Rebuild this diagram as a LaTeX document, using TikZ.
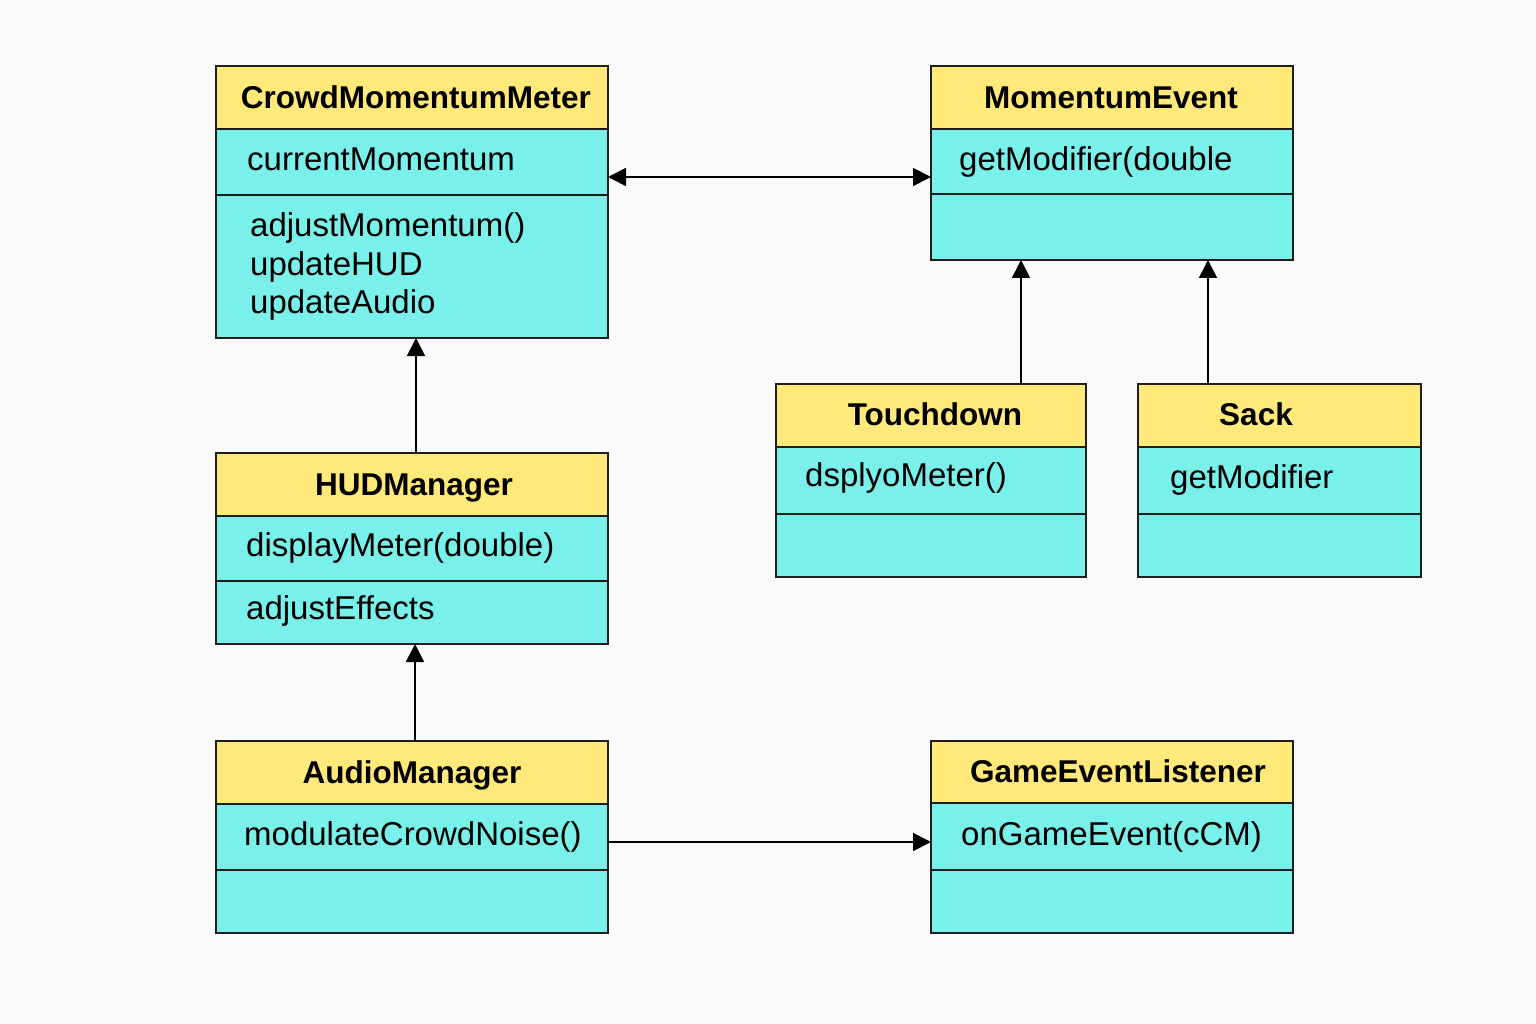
\documentclass[tikz,border=0pt]{standalone}
\usepackage{fontspec}
\setmainfont{Liberation Sans}
\usetikzlibrary{arrows.meta}
\definecolor{bgc}{HTML}{FAFAFA}
\definecolor{hdrc}{HTML}{FEE97A}
\definecolor{cmpc}{HTML}{7AF0EA}
\definecolor{linec}{HTML}{1E1E1E}
\tikzset{
  box/.style={draw=linec, line width=1.5pt, anchor=north west, inner sep=0pt, outer sep=0pt},
  hdr/.style={box, fill=hdrc},
  cmp/.style={box, fill=cmpc},
  htext/.style={font=\fontsize{31.5}{36}\selectfont\bfseries, anchor=mid, inner sep=0pt, yshift=-7pt},
  btext/.style={font=\fontsize{33}{38}\selectfont, anchor=mid west, inner sep=0pt, yshift=-7pt},
  conn/.style={draw=black, line width=1.7pt},
  tip/.style={-{Triangle[length=18pt,width=18pt]}},
  dtip/.style={{Triangle[length=18pt,width=18pt]}-{Triangle[length=18pt,width=18pt]}}
}
\begin{document}
\begin{tikzpicture}[x=1pt,y=-1pt]
\fill[bgc] (0,0) rectangle (1536,1024);
\useasboundingbox (0,0) rectangle (1536,1024);

% CrowdMomentumMeter
\node[hdr, minimum width=392pt, minimum height=63pt] (cmmH) at (216,66) {};
\node[cmp, minimum width=392pt, minimum height=66pt] (cmmA) at (216,129) {};
\node[cmp, minimum width=392pt, minimum height=143pt] (cmmM) at (216,195) {};
\node[htext] (cmmT) at (416,99) {CrowdMomentumMeter};
\node[btext] (cmmA1) at (247,161) {currentMomentum};
\node[btext] (cmmM1) at (250,227) {adjustMomentum()};
\node[btext] (cmmM2) at (250,266) {updateHUD};
\node[btext] (cmmM3) at (250,304) {updateAudio};

% MomentumEvent
\node[hdr, minimum width=362pt, minimum height=63pt] (meH) at (931,66) {};
\node[cmp, minimum width=362pt, minimum height=65pt] (meA) at (931,129) {};
\node[cmp, minimum width=362pt, minimum height=66pt] (meM) at (931,194) {};
\node[htext] (meT) at (1111,99) {MomentumEvent};
\node[btext] (meA1) at (959,161) {getModifier(double};

% Touchdown
\node[hdr, minimum width=310pt, minimum height=63pt] (tdH) at (776,384) {};
\node[cmp, minimum width=310pt, minimum height=67pt] (tdA) at (776,447) {};
\node[cmp, minimum width=310pt, minimum height=63pt] (tdM) at (776,514) {};
\node[htext] (tdT) at (935,416) {Touchdown};
\node[btext] (tdA1) at (805,477) {dsplyoMeter()};

% Sack
\node[hdr, minimum width=283pt, minimum height=63pt] (skH) at (1138,384) {};
\node[cmp, minimum width=283pt, minimum height=67pt] (skA) at (1138,447) {};
\node[cmp, minimum width=283pt, minimum height=63pt] (skM) at (1138,514) {};
\node[htext] (skT) at (1256,416) {Sack};
\node[btext] (skA1) at (1170,479) {getModifier};

% HUDManager
\node[hdr, minimum width=392pt, minimum height=63pt] (hudH) at (216,453) {};
\node[cmp, minimum width=392pt, minimum height=65pt] (hudA) at (216,516) {};
\node[cmp, minimum width=392pt, minimum height=63pt] (hudM) at (216,581) {};
\node[htext] (hudT) at (414,486) {HUDManager};
\node[btext] (hudA1) at (246,547) {displayMeter(double)};
\node[btext] (hudM1) at (246,610) {adjustEffects};

% AudioManager
\node[hdr, minimum width=392pt, minimum height=63pt] (amH) at (216,741) {};
\node[cmp, minimum width=392pt, minimum height=66pt] (amA) at (216,804) {};
\node[cmp, minimum width=392pt, minimum height=63pt] (amM) at (216,870) {};
\node[htext] (amT) at (412,774) {AudioManager};
\node[btext] (amA1) at (244,836) {modulateCrowdNoise()};

% GameEventListener
\node[hdr, minimum width=362pt, minimum height=62pt] (gelH) at (931,741) {};
\node[cmp, minimum width=362pt, minimum height=67pt] (gelA) at (931,803) {};
\node[cmp, minimum width=362pt, minimum height=63pt] (gelM) at (931,870) {};
\node[htext] (gelT) at (1118,773) {GameEventListener};
\node[btext] (gelA1) at (961,836) {onGameEvent(cCM)};

% connectors
\draw[conn, dtip] ([yshift=18pt]cmmA.south east) -- ([yshift=17pt]meA.south west);
\draw[conn, tip] ([xshift=90pt]tdH.north) -- ([xshift=90pt]tdH.north |- meM.south);
\draw[conn, tip] ([xshift=-71.5pt]skH.north) -- ([xshift=-71.5pt]skH.north |- meM.south);
\draw[conn, tip] ([xshift=4pt]hudH.north) -- ([xshift=4pt]hudH.north |- cmmM.south);
\draw[conn, tip] ([xshift=3pt]amH.north) -- ([xshift=3pt]amH.north |- hudM.south);
\draw[conn, tip] ([yshift=-5pt]amA.east) -- ([yshift=-5pt]amA.east -| gelA.west);
\end{tikzpicture}
\end{document}
